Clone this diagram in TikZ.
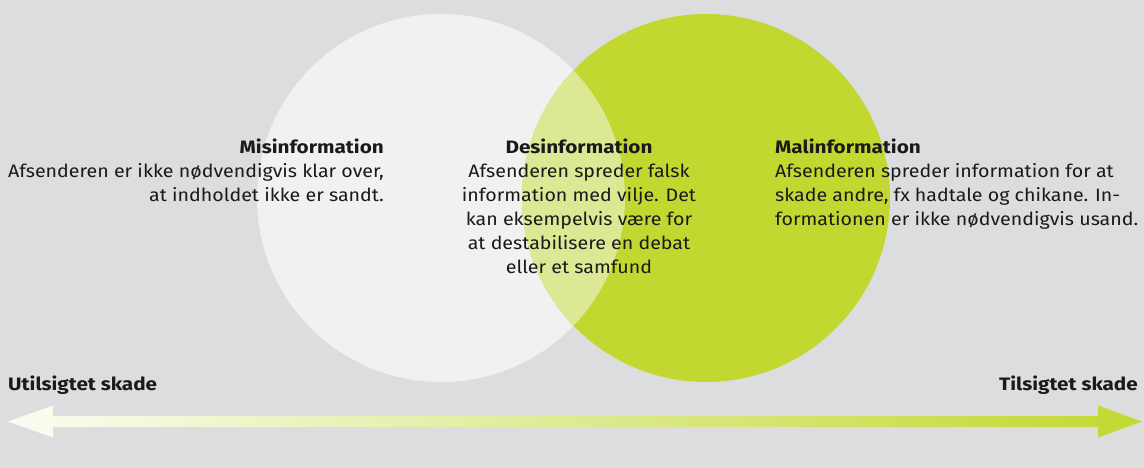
\documentclass[tikz,border=0pt]{standalone}
\usepackage{fontspec}
\setmainfont{Fira Sans}[FakeStretch=1.09, BoldFeatures={FakeStretch=1.15}]
\usetikzlibrary{calc}
\definecolor{bg}{HTML}{DCDDDF}
\definecolor{lightc}{HTML}{F1F1F1}
\definecolor{greenc}{HTML}{C2D830}
\definecolor{overlapc}{HTML}{DCE893}
\definecolor{txt}{HTML}{1A1A1A}
\definecolor{arrowl}{HTML}{FBFCF3}
\begin{document}
\begin{tikzpicture}[x=1pt,y=-1pt,
  blocktext/.style={inner sep=0pt, text=txt, font=\fontsize{18}{24}\selectfont},
  labeltext/.style={inner sep=0pt, text=txt, font=\fontsize{18}{24}\selectfont\bfseries}]
\fill[bg] (0,0) rectangle (1144,468);
\useasboundingbox (0,0) rectangle (1144,468);
% circles
\fill[lightc] (441,198) circle[radius=184];
\fill[greenc] (706,198) circle[radius=184];
\begin{scope}
  \clip (441,198) circle[radius=184];
  \fill[overlapc] (706,198) circle[radius=184];
\end{scope}
% texts
\node[blocktext, align=right, anchor=north east] (mis) at (384,139)
  {\textbf{Misinformation}\\Afsenderen er ikke nødvendigvis klar over,\\at indholdet ikke er sandt.};
\node[blocktext, align=center, anchor=north] (des) at (579,139)
  {\textbf{Desinformation}\\Afsenderen spreder falsk\\information med vilje. Det\\kan eksempelvis være for\\at destabilisere en debat\\eller et samfund};
\node[blocktext, align=left, anchor=north west] (mal) at (775,139)
  {\textbf{Malinformation}\\Afsenderen spreder information for at\\skade andre, fx hadtale og chikane. In-\\formationen er ikke nødvendigvis usand.};
% bottom labels
\node[labeltext, anchor=base west] (left) at (8,390) {Utilsigtet skade};
\node[labeltext, anchor=base east] (right) at (1138,390) {Tilsigtet skade};
% arrow
\coordinate (ltip) at (8,421.5);
\coordinate (rtip) at (1142,421.5);
\shade[left color=arrowl, right color=greenc]
  (ltip) -- ++(45,-16) -- ++(0,10.5) -- ($(rtip)+(-44,-5.5)$) -- ++(0,-10.5) -- (rtip)
  -- ++(-44,16) -- ++(0,-10.5) -- ($(ltip)+(45,5.5)$) -- ++(0,10.5) -- cycle;
\end{tikzpicture}
\end{document}
